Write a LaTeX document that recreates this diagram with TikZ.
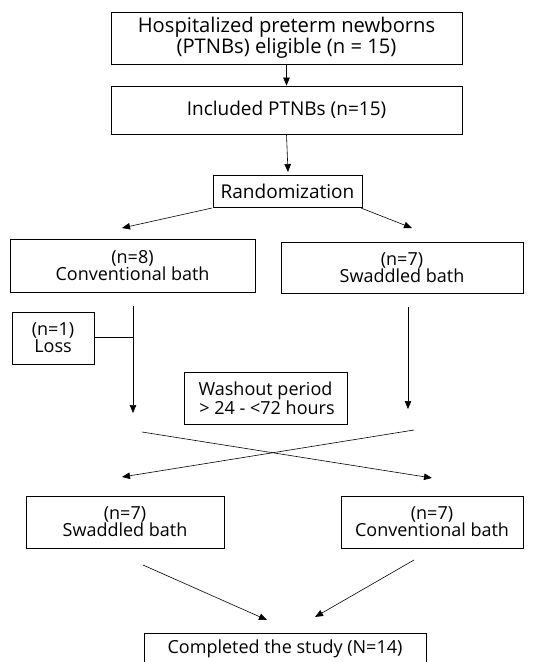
\documentclass[tikz,border=0pt]{standalone}
\usepackage{fontspec}
\setmainfont{Open Sans}
\usetikzlibrary{arrows.meta}
\begin{document}
\begin{tikzpicture}[x=1pt,y=-1pt,
 box/.style={draw, line width=0.8pt, inner sep=0pt, align=center, font=\fontsize{18}{17}\selectfont},
 arr/.style={line width=0.6pt, -{Triangle[length=8pt,width=6.5pt]}},
 ln/.style={line width=0.6pt}]
\clip (0,0) rectangle (560,662);
\useasboundingbox (0,0) rectangle (560,662);
\node[box, minimum width=351pt, minimum height=52pt, font=\fontsize{20.2}{18}\selectfont] (b1) at (286.5,38) {Hospitalized preterm newborns\\(PTNBs) eligible (n = 15)};
\node[box, minimum width=351pt, minimum height=48pt, font=\fontsize{19}{18}\selectfont] (b2) at (286.5,110) {Included PTNBs (n=15)};
\node[box, minimum width=149pt, minimum height=32pt, font=\fontsize{19}{18}\selectfont] (rand) at (287.5,191) {Randomization};
\node[box, minimum width=245pt, minimum height=53pt] (conv1) at (132.5,266) {(n=8)\\Conventional bath};
\node[box, minimum width=242pt, minimum height=51pt] (swad1) at (402,268) {(n=7)\\Swaddled bath};
\node[box, minimum width=82pt, minimum height=52pt] (loss) at (53,338) {(n=1)\\Loss};
\node[box, minimum width=163pt, minimum height=52pt] (wash) at (265.5,398) {Washout period\\\,{>} 24 - {<}72 hours};
\node[box, minimum width=198pt, minimum height=52pt] (swad2) at (125,522) {(n=7)\\Swaddled bath};
\node[box, minimum width=182pt, minimum height=52pt] (conv2) at (432,522) {(n=7)\\Conventional bath};
\node[box, minimum width=282pt, minimum height=50pt] (done) at (285,658) {};
\node[font=\fontsize{18}{17}\selectfont] (donetext) at (285,649) {Completed the study (N=14)};
% coordinates
\coordinate (rtip) at (288,172);
\coordinate (rl) at (212,208);
\coordinate (rlt) at (122,228);
\coordinate (rr) at (361,208);
\coordinate (rrt) at (412,228);
\coordinate (lv0) at (133,306);
\coordinate (lv1) at (133,413);
\coordinate (lj) at (133,337);
\coordinate (rv0) at (408,307);
\coordinate (rv1) at (408,409);
\coordinate (xl0) at (142,432);
\coordinate (xl1) at (432,478);
\coordinate (xr0) at (414,430);
\coordinate (xr1) at (122,477);
\coordinate (bl0) at (143,565);
\coordinate (bl1) at (267,620);
\coordinate (br0) at (414,560);
\coordinate (br1) at (315,617);
% connectors
\draw[arr] (b1.south) -- (b2.north);
\draw[arr] (b2.south) -- (rtip);
\draw[arr] (rl) -- (rlt);
\draw[arr] (rr) -- (rrt);
\draw[arr] (lv0) -- (lv1);
\draw[ln] (loss.east |- lj) -- (lj);
\draw[arr] (rv0) -- (rv1);
\draw[arr] (xl0) -- (xl1);
\draw[arr] (xr0) -- (xr1);
\draw[arr] (bl0) -- (bl1);
\draw[arr] (br0) -- (br1);
\end{tikzpicture}
\end{document}
